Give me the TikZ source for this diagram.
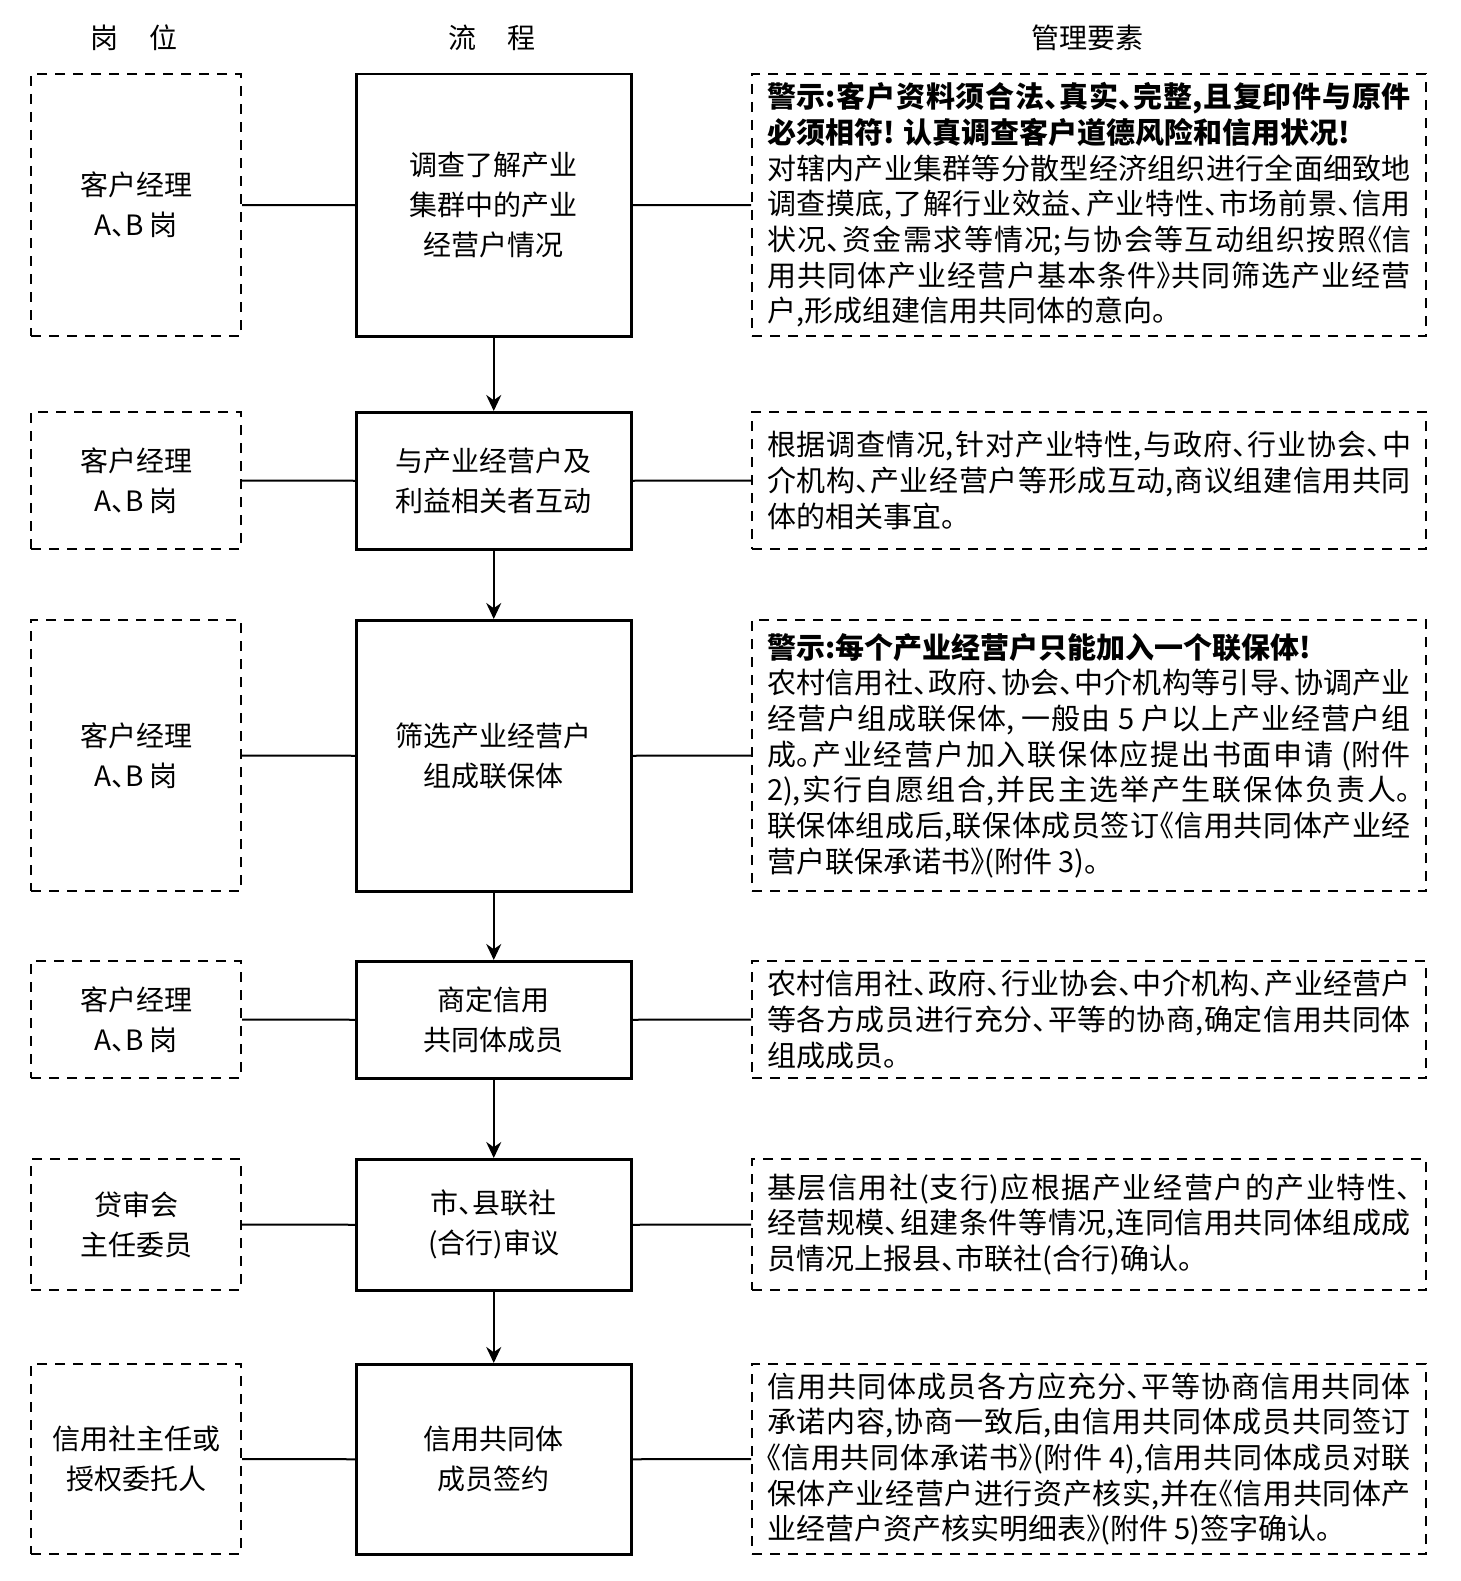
\documentclass[tikz,border=0pt]{standalone}
\usepackage{fontspec}
\usetikzlibrary{arrows.meta}
\newfontfamily\cjk[RawFeature=+halt]{Noto Sans CJK SC}
\XeTeXlinebreaklocale "zh"
\XeTeXlinebreakskip=0pt plus 4pt minus 1.5pt
\begin{document}
\begin{tikzpicture}[x=1pt,y=-1pt,
  dsh/.style={dash pattern=on 10pt off 8pt, line width=2pt},
  role/.style={draw, dsh, inner sep=0pt, align=center, anchor=north west,
    minimum width=210pt, font=\cjk\fontsize{28}{40}\selectfont},
  proc/.style={draw, line width=2.5pt, inner sep=0pt, align=center, anchor=north west,
    minimum width=275pt, font=\cjk\fontsize{28}{40}\selectfont},
  note/.style={draw, dsh, inner xsep=15pt, inner ysep=0pt, text width=644pt, align=justify,
    anchor=north west, font=\cjk\fontsize{29}{35.7}\selectfont},
  hdr/.style={font=\cjk\fontsize{28}{34}\selectfont},
  conn/.style={line width=2pt},
  arr/.style={line width=2pt, -{Stealth[length=16pt,width=15pt]}}]
\useasboundingbox (0,0) rectangle (1460,1581);

\node[hdr] (h1) at (134,38) {岗\hspace{1.1em}位};
\node[hdr] (h2) at (492,38) {流\hspace{1.1em}程};
\node[hdr] (h3) at (1087,38) {管理要素};

% row 1
\node[role, minimum height=262pt] (l1) at (30,73) {客户经理\\A、B 岗};
\node[proc, minimum height=262pt] (p1) at (355,73) {调查了解产业\\集群中的产业\\经营户情况};
\node[note, minimum height=262pt] (r1) at (751,73) {{\bfseries 警示:客户资料须合法、真实、完整,且复印件与原件\linebreak 必须相符! 认真调查客户道德风险和信用状况!}\\
对辖内产业集群等分散型经济组织进行全面细致地\linebreak 调查摸底,了解行业效益、产业特性、市场前景、信用\linebreak 状况、资金需求等情况;与协会等互动组织按照《信\linebreak 用共同体产业经营户基本条件》共同筛选产业经营\linebreak 户,形成组建信用共同体的意向。};

% row 2
\node[role, minimum height=137pt] (l2) at (30,411) {客户经理\\A、B 岗};
\node[proc, minimum height=137pt] (p2) at (355,411) {与产业经营户及\\利益相关者互动};
\node[note, minimum height=137pt] (r2) at (751,411) {根据调查情况,针对产业特性,与政府、行业协会、中\linebreak 介机构、产业经营户等形成互动,商议组建信用共同\linebreak 体的相关事宜。};

% row 3
\node[role, minimum height=271pt] (l3) at (30,619) {客户经理\\A、B 岗};
\node[proc, minimum height=271pt] (p3) at (355,619) {筛选产业经营户\\组成联保体};
\node[note, minimum height=271pt] (r3) at (751,619) {{\bfseries 警示:每个产业经营户只能加入一个联保体!}\\
农村信用社、政府、协会、中介机构等引导、协调产业\linebreak 经营户组成联保体, 一般由 5 户以上产业经营户组\linebreak 成。产业经营户加入联保体应提出书面申请 (附件\linebreak 2),实行自愿组合,并民主选举产生联保体负责人。\linebreak 联保体组成后,联保体成员签订《信用共同体产业经\linebreak 营户联保承诺书》(附件 3)。};

% row 4
\node[role, minimum height=117pt] (l4) at (30,960) {客户经理\\A、B 岗};
\node[proc, minimum height=117pt] (p4) at (355,960) {商定信用\\共同体成员};
\node[note, minimum height=117pt] (r4) at (751,960) {农村信用社、政府、行业协会、中介机构、产业经营户\linebreak 等各方成员进行充分、平等的协商,确定信用共同体\linebreak 组成成员。};

% row 5
\node[role, minimum height=131pt] (l5) at (30,1158) {贷审会\\主任委员};
\node[proc, minimum height=131pt] (p5) at (355,1158) {市、县联社\\(合行)审议};
\node[note, minimum height=131pt] (r5) at (751,1158) {基层信用社(支行)应根据产业经营户的产业特性、\linebreak 经营规模、组建条件等情况,连同信用共同体组成成\linebreak 员情况上报县、市联社(合行)确认。};

% row 6
\node[role, minimum height=190pt] (l6) at (30,1363) {信用社主任或\\授权委托人};
\node[proc, minimum height=190pt] (p6) at (355,1363) {信用共同体\\成员签约};
\node[note, minimum height=190pt] (r6) at (751,1363) {信用共同体成员各方应充分、平等协商信用共同体\linebreak 承诺内容,协商一致后,由信用共同体成员共同签订\linebreak 《信用共同体承诺书》(附件 4),信用共同体成员对联\linebreak 保体产业经营户进行资产核实,并在《信用共同体产\linebreak 业经营户资产核实明细表》(附件 5)签字确认。};

\foreach \i in {1,...,6} {
  \draw[conn] (l\i.east) -- (p\i.west);
  \draw[conn] (p\i.east) -- (r\i.west);
}
\draw[arr] (p1.south) -- (p2.north);
\draw[arr] (p2.south) -- (p3.north);
\draw[arr] (p3.south) -- (p4.north);
\draw[arr] (p4.south) -- (p5.north);
\draw[arr] (p5.south) -- (p6.north);
\end{tikzpicture}
\end{document}
